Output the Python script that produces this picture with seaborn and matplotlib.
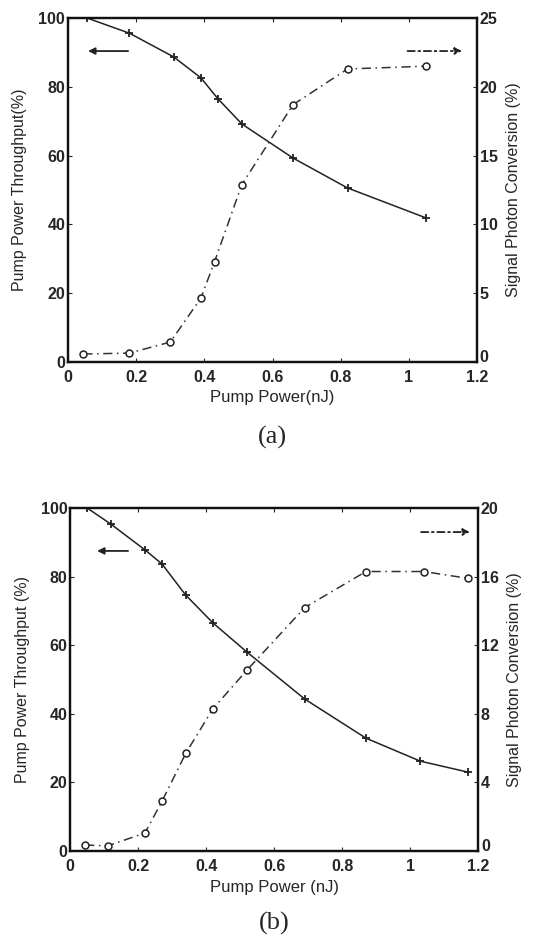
import matplotlib
matplotlib.use("Agg")
import matplotlib.pyplot as plt
import matplotlib.transforms as mtransforms
import seaborn as sns
import pandas as pd

# ---- data panel (a)
a_pump_x = [0.056, 0.18, 0.31, 0.39, 0.44, 0.51, 0.66, 0.82, 1.05]
a_pump_y = [100, 95.6, 88.7, 82.6, 76.5, 69.2, 59.3, 50.6, 41.9]
a_sig_x = [0.045, 0.18, 0.30, 0.39, 0.43, 0.51, 0.66, 0.82, 1.05]
a_sig_y = [0.58, 0.65, 1.45, 4.65, 7.3, 12.9, 18.7, 21.3, 21.5]
# ---- data panel (b)
b_pump_x = [0.05, 0.12, 0.22, 0.27, 0.34, 0.42, 0.52, 0.69, 0.87, 1.03, 1.17]
b_pump_y = [100, 95.3, 87.8, 83.7, 74.6, 66.5, 58.0, 44.3, 32.9, 26.2, 23.0]
b_sig_x = [0.044, 0.11, 0.22, 0.27, 0.34, 0.42, 0.52, 0.69, 0.87, 1.04, 1.17]
b_sig_y = [0.35, 0.3, 1.05, 2.9, 5.7, 8.3, 10.55, 14.2, 16.3, 16.3, 15.9]

x_ticks = [0, 0.2, 0.4, 0.6, 0.8, 1.0, 1.2]
x_ticklabels = ["0", "0.2", "0.4", "0.6", "0.8", "1", "1.2"]
left_ticks = [0, 20, 40, 60, 80, 100]
a_right_ticks = [0, 5, 10, 15, 20, 25]
b_right_ticks = [0, 4, 8, 12, 16, 20]

sns.set_style("ticks")
plt.rcParams['font.family'] = ['Liberation Sans', 'DejaVu Sans']

fig = plt.figure(figsize=(5.44, 9.44), dpi=100)

def panel(rect, px, py, sx, sy, rticks, xlabel, ylabel, caption, cap_y, xl_y,
          larrow, rarrow, lhead):
    ax = fig.add_axes(rect)
    dp = pd.DataFrame({"x": px, "y": py})
    ds = pd.DataFrame({"x": sx, "y": sy})
    sns.lineplot(data=dp, x="x", y="y", ax=ax, color="#222222", lw=1.1,
                 marker="+", markersize=6, markeredgewidth=1.3,
                 markeredgecolor="#222222")
    ax2 = ax.twinx()
    sns.lineplot(data=ds, x="x", y="y", ax=ax2, color="#333333", lw=1.1,
                 linestyle=(0, (6, 3, 1, 3)), marker="o", markersize=5,
                 markerfacecolor="white", markeredgecolor="#222222",
                 markeredgewidth=1.1)
    ax.set_xlim(0, 1.2)
    ax.set_ylim(0, 100)
    ax2.set_ylim(0, rticks[-1])
    ax.set_xticks(x_ticks)
    ax.set_xticklabels(x_ticklabels)
    ax.set_yticks(left_ticks)
    ax2.set_yticks(rticks)
    for a in (ax, ax2):
        for s in a.spines.values():
            s.set_linewidth(1.6)
            s.set_color("#111111")
        a.tick_params(direction="in", length=3, width=0.8, labelsize=11.5,
                      pad=2)
        for lab in a.get_xticklabels() + a.get_yticklabels():
            lab.set_fontweight("bold")
    ax.tick_params(axis="x", pad=6)
    ax.tick_params(top=True)
    # lift the right-axis "0" a little so it clears the "1.2" x label
    off = mtransforms.ScaledTranslation(0, 4 / 72, fig.dpi_scale_trans)
    r0 = ax2.get_yticklabels()[0]
    r0.set_transform(r0.get_transform() + off)
    ax.set_xlabel("")
    ax.set_ylabel(ylabel, fontsize=11.5, labelpad=8)
    ax2.set_ylabel("Signal Photon Conversion (%)", fontsize=11.5, labelpad=6)
    fig.text(rect[0] + rect[2] / 2, xl_y, xlabel, ha="center", va="center",
             fontsize=12)
    fig.text(rect[0] + rect[2] / 2, cap_y, caption, ha="center", va="center",
             fontsize=19, family=["Liberation Serif", "DejaVu Serif"])
    # direction arrows
    ax.annotate("", xy=(larrow[0], larrow[2]), xytext=(larrow[1], larrow[2]),
                xycoords="axes fraction",
                arrowprops=dict(arrowstyle=lhead, color="#222222", lw=1.3,
                                shrinkA=0, shrinkB=0))
    ax.annotate("", xy=(rarrow[1], rarrow[2]), xytext=(rarrow[0], rarrow[2]),
                xycoords="axes fraction",
                arrowprops=dict(arrowstyle="-|>", color="#222222", lw=1.3,
                                linestyle=(0, (4, 2, 1, 2)),
                                shrinkA=0, shrinkB=0))
    return ax, ax2

panel([0.125, 0.6165, 0.752, 0.3644], a_pump_x, a_pump_y, a_sig_x, a_sig_y,
      a_right_ticks, "Pump Power(nJ)", "Pump Power Throughput(%)", "(a)",
      0.537, 0.579,
      (0.049, 0.147, 0.904), (0.83, 0.963, 0.904), "-|>")
panel([0.129, 0.0985, 0.75, 0.3633], b_pump_x, b_pump_y, b_sig_x, b_sig_y,
      b_right_ticks, "Pump Power (nJ)", "Pump Power Throughput (%)", "(b)",
      0.022, 0.060,
      (0.066, 0.142, 0.875), (0.86, 0.98, 0.930), "-|>")

fig.savefig("out.png", dpi=100)
